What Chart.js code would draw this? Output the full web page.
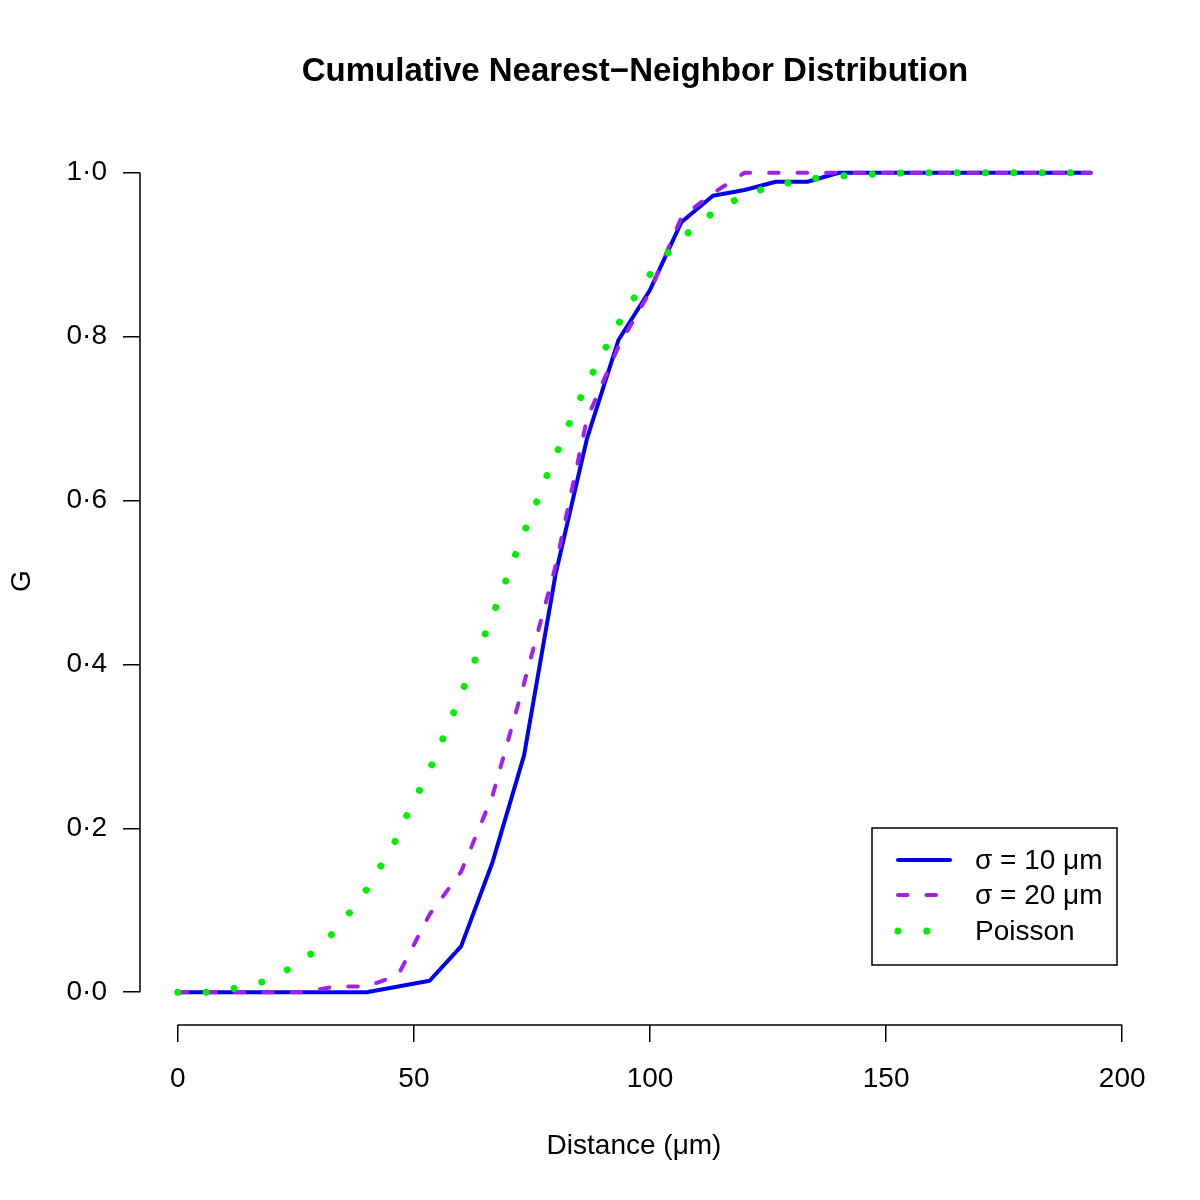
<!DOCTYPE html>
<html>
<head>
<meta charset="utf-8">
<script src="https://cdn.jsdelivr.net/npm/chart.js@4.4.1/dist/chart.umd.min.js"></script>
<style>
  html, body { margin: 0; padding: 0; background: #ffffff; }
  #wrap { width: 1200px; height: 1200px; position: relative; }
</style>
</head>
<body>
<div id="wrap"><canvas id="c" width="1200" height="1200"></canvas></div>
<script>
// ---- Data ----
const chartTitle = "Cumulative Nearest\u2212Neighbor Distribution";
const xTitle = "Distance (\u03bcm)";
const yTitle = "G";
const seriesNames = ["\u03c3 = 10 \u03bcm", "\u03c3 = 20 \u03bcm", "Poisson"];

// distances shared by the two empirical curves (\u03bcm)
const distances = [0, 6.67, 13.33, 20, 26.67, 33.33, 40, 46.67, 53.33, 60,
                   66.67, 73.33, 80, 86.67, 93.33, 100, 106.67, 113.33, 120, 126.67,
                   133.33, 140, 146.67, 153.33, 160, 166.67, 173.33, 180, 186.67, 193.33];
const sigma10 = [0, 0, 0, 0, 0, 0, 0, 0.007, 0.014, 0.056,
                 0.159, 0.289, 0.51, 0.676, 0.796, 0.857, 0.94, 0.972, 0.979, 0.989,
                 0.989, 1, 1, 1, 1, 1, 1, 1, 1, 1];
const sigma20 = [0, 0, 0, 0, 0, 0.007, 0.007, 0.021, 0.095, 0.147,
                 0.24, 0.377, 0.52, 0.70, 0.788, 0.855, 0.946, 0.975, 1, 1,
                 1, 1, 1, 1, 1, 1, 1, 1, 1, 1];

// Poisson reference curve, sampled along the drawn curve
const poissonDist = [0, 6, 12, 17.9, 23.3, 28.3, 32.7, 36.5, 40.1, 43.2,
                     46.2, 48.7, 51.4, 54, 56.4, 58.7, 61, 63.2, 65.4, 67.7,
                     69.8, 71.9, 74.1, 76.5, 78.6, 81.1, 83.4, 85.9, 88.6, 91.4,
                     94.3, 97.5, 101, 105, 109.4, 114.2, 119.5, 125.1, 131.1, 137.1,
                     143.1, 149.1, 155.1, 193.33];
const poissonG = [0, 0, 0.0045, 0.0126, 0.0277, 0.047, 0.071, 0.098, 0.126, 0.156,
                  0.186, 0.218, 0.249, 0.28, 0.313, 0.345, 0.378, 0.409, 0.442, 0.475,
                  0.507, 0.54, 0.572, 0.605, 0.637, 0.669, 0.701, 0.733, 0.764, 0.795,
                  0.826, 0.855, 0.884, 0.91, 0.934, 0.955, 0.971, 0.9825, 0.99, 0.995,
                  0.997, 0.999, 1, 1];

const xTicks = [0, 50, 100, 150, 200];
const yTicks = [0, 0.2, 0.4, 0.6, 0.8, 1.0];
const colors = ["#0000ee", "#a020f0", "#00ee00"];

const FONT = '"Liberation Sans", Arial, Helvetica, sans-serif';

function pairs(xs, ys) { return xs.map((x, i) => ({ x: x, y: ys[i] })); }

const decorPlugin = {
  id: 'decor',
  afterDraw(chart) {
    const ctx = chart.ctx;
    const xs = chart.scales.x, ys = chart.scales.y;
    const area = chart.chartArea;
    ctx.save();
    // axis lines spanning first..last tick (R style)
    ctx.strokeStyle = '#000';
    ctx.lineWidth = 1.5;
    ctx.beginPath();
    ctx.moveTo(xs.getPixelForValue(xTicks[0]), area.bottom);
    ctx.lineTo(xs.getPixelForValue(xTicks[xTicks.length - 1]), area.bottom);
    ctx.moveTo(area.left, ys.getPixelForValue(yTicks[0]));
    ctx.lineTo(area.left, ys.getPixelForValue(yTicks[yTicks.length - 1]));
    ctx.stroke();

    // title
    ctx.fillStyle = '#000';
    ctx.textAlign = 'center';
    ctx.textBaseline = 'middle';
    ctx.font = 'bold 33px ' + FONT;
    ctx.fillText(chartTitle, 635, 72);
    // axis titles
    ctx.font = '28px ' + FONT;
    ctx.fillText(xTitle, 634, 1146);
    ctx.save();
    ctx.translate(22, 581);
    ctx.rotate(-Math.PI / 2);
    ctx.fillText(yTitle, 0, 0);
    ctx.restore();

    // legend box
    const bx = 872, by = 828, bw = 245, bh = 137;
    ctx.lineWidth = 1.5;
    ctx.strokeStyle = '#000';
    ctx.fillStyle = '#fff';
    ctx.fillRect(bx, by, bw, bh);
    ctx.strokeRect(bx, by, bw, bh);
    const rowsY = [860, 895, 931];
    const styles = [
      { w: 4, dash: [] },
      { w: 4, dash: [9.5, 19] },
      { w: 7, dash: [0.01, 28.8] }
    ];
    ctx.lineCap = 'round';
    for (let i = 0; i < 3; i++) {
      ctx.strokeStyle = colors[i];
      ctx.lineWidth = styles[i].w;
      ctx.setLineDash(styles[i].dash);
      ctx.beginPath();
      ctx.moveTo(898, rowsY[i]);
      ctx.lineTo(950, rowsY[i]);
      ctx.stroke();
    }
    ctx.setLineDash([]);
    ctx.fillStyle = '#000';
    ctx.textAlign = 'left';
    ctx.textBaseline = 'middle';
    ctx.font = '28px ' + FONT;
    for (let i = 0; i < 3; i++) {
      ctx.fillText(seriesNames[i], 975, rowsY[i] + 1);
    }
    ctx.restore();
  }
};

new Chart(document.getElementById('c'), {
  type: 'line',
  data: {
    datasets: [
      {
        label: seriesNames[0],
        data: pairs(distances, sigma10),
        borderColor: colors[0],
        borderWidth: 4,
        borderCapStyle: 'round',
        borderJoinStyle: 'round',
        pointRadius: 0,
        tension: 0,
        order: 2
      },
      {
        label: seriesNames[1],
        data: pairs(distances, sigma20),
        borderColor: colors[1],
        borderWidth: 4,
        borderDash: [9.5, 19],
        borderCapStyle: 'round',
        borderJoinStyle: 'round',
        pointRadius: 0,
        tension: 0,
        order: 1
      },
      {
        label: seriesNames[2],
        data: pairs(poissonDist, poissonG),
        borderColor: colors[2],
        borderWidth: 7,
        borderDash: [0.01, 28.3],
        borderCapStyle: 'round',
        borderJoinStyle: 'round',
        pointRadius: 0,
        tension: 0,
        order: 0
      }
    ]
  },
  options: {
    responsive: false,
    animation: false,
    devicePixelRatio: 1,
    layout: { padding: { top: 140, right: 40, left: 0, bottom: 0 } },
    plugins: {
      legend: { display: false },
      title: { display: false },
      tooltip: { enabled: false }
    },
    scales: {
      x: {
        type: 'linear',
        min: -8,
        max: 208,
        afterBuildTicks(scale) { scale.ticks = xTicks.map(v => ({ value: v })); },
        afterFit(scale) { scale.height = 175; },
        ticks: {
          color: '#000',
          font: { family: FONT, size: 28 },
          padding: 20,
          maxRotation: 0,
          autoSkip: false,
          callback: (v) => String(v)
        },
        grid: {
          display: true,
          drawOnChartArea: false,
          drawTicks: true,
          tickLength: 17,
          color: '#000',
          lineWidth: 1.5
        },
        border: { display: false }
      },
      y: {
        type: 'linear',
        min: -0.04,
        max: 1.04,
        afterBuildTicks(scale) { scale.ticks = yTicks.map(v => ({ value: v })); },
        afterFit(scale) { scale.width = 140; },
        ticks: {
          color: '#000',
          font: { family: FONT, size: 28 },
          padding: 16,
          autoSkip: false,
          callback: (v) => Number(v).toFixed(1).replace('.', '\u00b7')
        },
        grid: {
          display: true,
          drawOnChartArea: false,
          drawTicks: true,
          tickLength: 17,
          color: '#000',
          lineWidth: 1.5
        },
        border: { display: false }
      }
    }
  },
  plugins: [decorPlugin]
});
</script>
</body>
</html>
